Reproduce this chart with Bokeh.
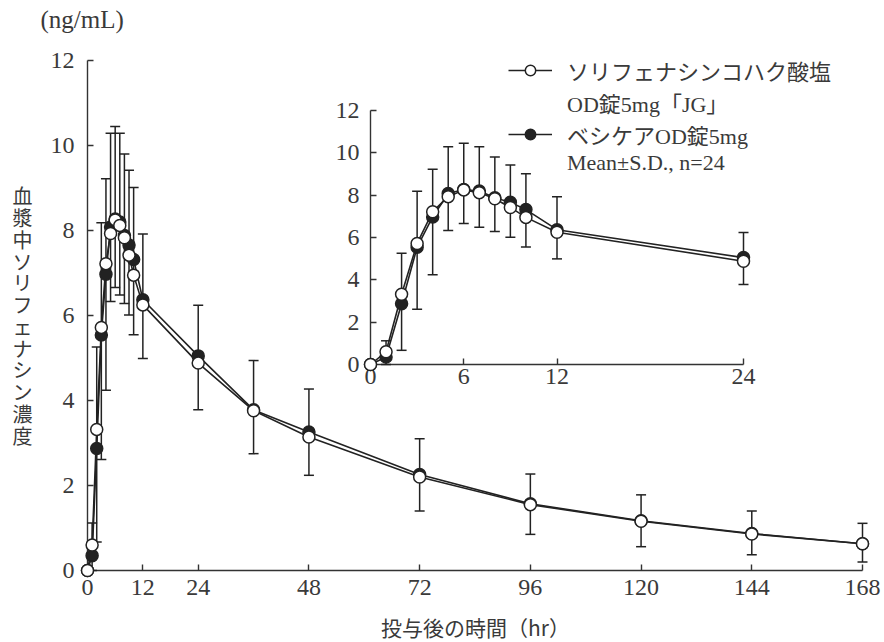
import numpy as np
from bokeh.plotting import figure
from bokeh.models import (Range1d, FixedTicker, ColumnDataSource, Whisker, TeeHead,
                          Legend, LegendItem, Label)
from bokeh.embed import file_html
from bokeh.resources import INLINE

# ---- data ----
time_hr = [0, 1, 2, 3, 4, 5, 6, 7, 8, 9, 10, 12, 24, 36, 48, 72, 96, 120, 144, 168]
jg_mean = [0, 0.60, 3.32, 5.72, 7.22, 7.93, 8.25, 8.12, 7.83, 7.42, 6.95, 6.25, 4.88,
           3.76, 3.14, 2.20, 1.55, 1.16, 0.86, 0.63]
ves_mean = [0, 0.35, 2.87, 5.54, 6.97, 8.08, 8.27, 8.20, 7.88, 7.66, 7.32, 6.37, 5.05,
            3.78, 3.26, 2.26, 1.57, 1.17, 0.87, 0.63]
err_upper = [0, 1.12, 5.26, 8.18, 9.22, 10.29, 10.45, 10.29, 9.80, 9.42, 9.01, 7.92, 6.24,
             4.94, 4.27, 3.10, 2.27, 1.78, 1.40, 1.11]
err_lower = [0, 0.0, 0.67, 2.61, 4.24, 6.33, 6.66, 6.48, 6.28, 6.01, 5.55, 4.99, 3.78,
             2.75, 2.24, 1.40, 0.85, 0.56, 0.37, 0.20]

x_ticks_main = [0, 12, 24, 48, 72, 96, 120, 144, 168]
x_ticks_inset = [0, 6, 12, 24]
y_ticks = [0, 2, 4, 6, 8, 10, 12]

label_jg_1 = "ソリフェナシンコハク酸塩"
label_jg_2 = "OD錠5mg「JG」"
label_ves = "ベシケアOD錠5mg"
label_stats = "Mean±S.D., n=24"
y_title = "血漿中ソリフェナシン濃度"
x_title = "投与後の時間（hr）"
unit_label = "(ng/mL)"

# ---- styles ----
INK = "#222222"
TEXT = "#3a3a3a"
SERIF = "'Liberation Serif', 'Noto Sans CJK JP'"
CJK = "'Noto Sans CJK JP'"

# ---- layout (page pixels) ----
PW, PH = 882, 640
# main axes: 0 h -> x 87, 168 h -> x 862 ; 0 -> y 570, 12 -> y 60
MX0, MX1, MY0, MY1 = 87, 862, 570, 60
# inset axes: 0 h -> x 370, 24 h -> x 743 ; 0 -> y 364, 12 -> y 110
IX0, IX1, IY0, IY1 = 370, 743, 364, 110

t = np.array(time_hr, dtype=float)
jg = np.array(jg_mean)
ves = np.array(ves_mean)
hi = np.array(err_upper)
lo = np.array(err_lower)


def style_axes(fig, xticks, xstand, ystand):
    for ax in (fig.xaxis[0], fig.yaxis[0]):
        ax.axis_line_color = "#333333"
        ax.axis_line_width = 1.4
        ax.major_tick_line_color = "#333333"
        ax.major_tick_line_width = 1.4
        ax.major_tick_in = 6
        ax.major_tick_out = 0
        ax.minor_tick_line_color = None
        ax.major_label_text_font = "Liberation Serif"
        ax.major_label_text_font_size = "24px"
        ax.major_label_text_color = TEXT
    fig.xaxis[0].ticker = FixedTicker(ticks=xticks)
    fig.yaxis[0].ticker = FixedTicker(ticks=y_ticks)
    fig.xaxis[0].major_label_standoff = xstand
    fig.yaxis[0].major_label_standoff = ystand
    fig.xgrid.visible = False
    fig.ygrid.visible = False
    fig.outline_line_color = None


# ---- main axes figure ----
p = figure(width=PW, height=PH,
           x_range=Range1d(time_hr[0], time_hr[-1]), y_range=Range1d(y_ticks[0], y_ticks[-1]),
           min_border_left=MX0, min_border_right=PW - MX1,
           min_border_top=MY1, min_border_bottom=PH - MY0,
           output_backend="svg", toolbar_location=None,
           background_fill_color="white", border_fill_color="white",
           styles={"position": "absolute", "left": "0px", "top": "0px"})
style_axes(p, x_ticks_main, 9, 13)

# ---- inset axes figure ----
inset_ax = figure(width=50 + (IX1 - IX0) + 15, height=16 + (IY0 - IY1) + 36,
                  x_range=Range1d(x_ticks_inset[0], x_ticks_inset[-1]),
                  y_range=Range1d(y_ticks[0], y_ticks[-1]),
                  min_border_left=50, min_border_right=15, min_border_top=16,
                  min_border_bottom=36,
                  output_backend="svg", toolbar_location=None,
                  background_fill_color=None, border_fill_color=None,
                  styles={"position": "absolute", "left": f"{IX0 - 50}px",
                          "top": f"{IY1 - 16}px"})
style_axes(inset_ax, x_ticks_inset, 4, 11)

# ---- data overlay (same scales as the axes above, spanning the page) ----
mkx = (MX1 - MX0) / (time_hr[-1] - time_hr[0])
mky = (MY0 - MY1) / (y_ticks[-1] - y_ticks[0])
ikx = (IX1 - IX0) / (x_ticks_inset[-1] - x_ticks_inset[0])
iky = (IY0 - IY1) / (y_ticks[-1] - y_ticks[0])


def px_x(px):
    return (px - MX0) / mkx


def px_y(py):
    return (MY0 - py) / mky


q = figure(width=PW, height=PH,
           x_range=Range1d(px_x(0), px_x(PW)), y_range=Range1d(px_y(PH), px_y(0)),
           min_border=0, x_axis_location=None, y_axis_location=None,
           output_backend="svg", toolbar_location=None,
           background_fill_color=None, border_fill_color=None,
           styles={"position": "absolute", "left": "0px", "top": "0px"})
q.xgrid.visible = False
q.ygrid.visible = False
q.outline_line_color = None
q.extra_x_ranges = {"ix": Range1d((0 - IX0) / ikx, (PW - IX0) / ikx)}
q.extra_y_ranges = {"iy": Range1d((IY0 - PH) / iky, (IY0 - 0) / iky)}


def draw_series(mask, xr="default", yr="default"):
    m = mask & (hi > lo)
    src_w = ColumnDataSource(dict(t=t[m], hi=hi[m], lo=lo[m]))
    w = Whisker(base="t", upper="hi", lower="lo", source=src_w,
                x_range_name=xr, y_range_name=yr,
                line_color=INK, line_width=1.5,
                upper_head=TeeHead(size=10, line_color=INK, line_width=1.5),
                lower_head=TeeHead(size=10, line_color=INK, line_width=1.5))
    q.add_layout(w)
    kw = dict(x_range_name=xr, y_range_name=yr)
    rv_l = q.line(t[mask], ves[mask], line_color=INK, line_width=1.6, **kw)
    rj_l = q.line(t[mask], jg[mask], line_color=INK, line_width=1.6, **kw)
    rv_s = q.scatter(t[mask], ves[mask], marker="circle", size=12,
                     fill_color=INK, line_color=INK, line_width=1.5, **kw)
    rj_s = q.scatter(t[mask], jg[mask], marker="circle", size=12,
                     fill_color="white", line_color=INK, line_width=1.5, **kw)
    return rj_l, rj_s, rv_l, rv_s


rj_l, rj_s, rv_l, rv_s = draw_series(t <= time_hr[-1])
draw_series(t <= x_ticks_inset[-1], "ix", "iy")

blank = q.scatter([], [], marker="circle", size=1, fill_alpha=0, line_alpha=0)

legend = Legend(items=[LegendItem(label=label_jg_1, renderers=[rj_l, rj_s]),
                       LegendItem(label=label_jg_2, renderers=[blank]),
                       LegendItem(label=label_ves, renderers=[rv_l, rv_s]),
                       LegendItem(label=label_stats, renderers=[blank])],
                location=(508, PH - 176), orientation="vertical",
                glyph_width=44, glyph_height=26, label_standoff=15,
                padding=0, margin=0, spacing=0,
                border_line_color=None, background_fill_alpha=0,
                label_text_font=SERIF, label_text_font_size="22px",
                label_text_color=TEXT)
q.add_layout(legend)

q.add_layout(Label(x=px_x(40), y=px_y(19), text=unit_label, text_align="left",
                   text_baseline="middle", text_font="Liberation Serif",
                   text_font_size="25px", text_color=TEXT))
q.add_layout(Label(x=px_x(475), y=px_y(626), text=x_title, text_align="center",
                   text_baseline="middle", text_font=CJK,
                   text_font_size="21px", text_color=TEXT))
q.add_layout(Label(x=px_x(22), y=px_y(315), text="\n".join(list(y_title)),
                   text_align="center", text_baseline="middle", text_font=CJK,
                   text_line_height=0.75, text_font_size="20px", text_color=TEXT))

open("out.html", "w").write(file_html([p, inset_ax, q], INLINE))
